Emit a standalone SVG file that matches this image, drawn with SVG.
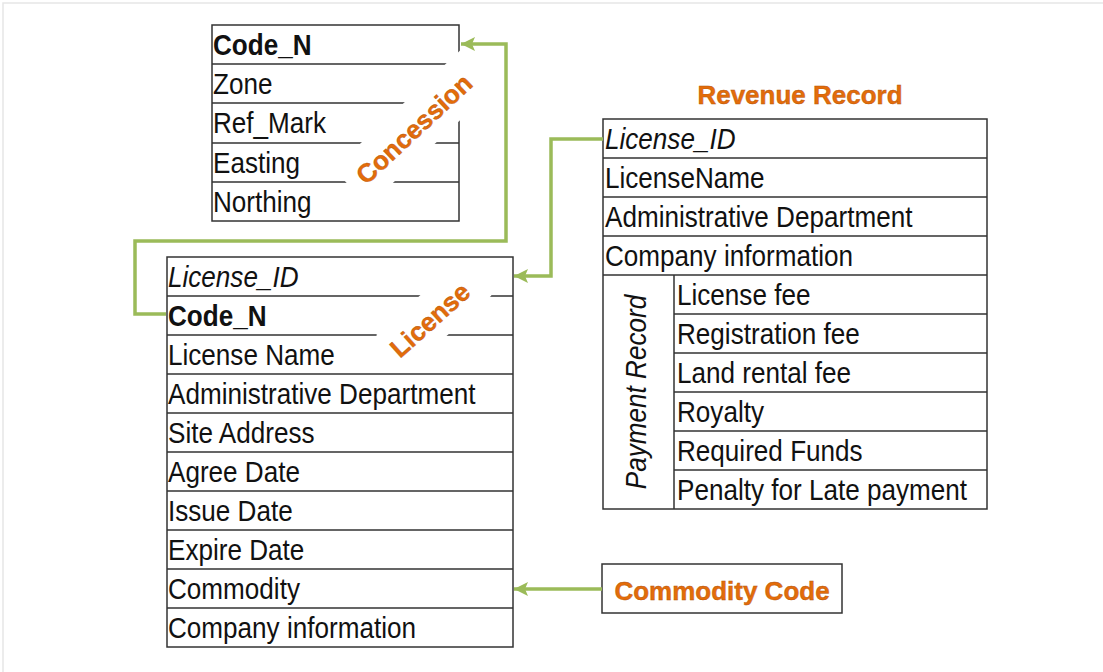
<svg xmlns="http://www.w3.org/2000/svg" width="1103" height="672" viewBox="0 0 1103 672">
  <style>
    .grid { stroke: #333333; stroke-width: 1.5; fill: none; }
    .cell { font-family: "Liberation Sans", Arial, sans-serif; font-size: 29px; fill: #111111; }
    .b { font-weight: bold; }
    .i { font-style: italic; }
    .tag { font-family: "Liberation Sans", Arial, sans-serif; font-weight: bold; font-size: 26px; fill: #E36C0A; stroke: #B3540C; stroke-width: 0.4; }
    .link { stroke: #9BBB59; stroke-width: 3.5; fill: none; stroke-linejoin: miter; }
  </style>
  <defs>
    <marker id="arrow" markerUnits="userSpaceOnUse" markerWidth="16" markerHeight="16" refX="14" refY="7" orient="auto">
      <path d="M0,0 L14,7 L0,14 L3,7 z" fill="#9BBB59"/>
    </marker>
  </defs>

  <rect x="0" y="0" width="1103" height="672" fill="#ffffff"/>
  <path d="M3,672 V3 H1103" stroke="#e6e6e6" stroke-width="1.5" fill="none"/>

  <!-- Concession table -->
  <g id="concession">
    <rect class="grid" x="212" y="25" width="247" height="196" fill="#ffffff"/>
    <path class="grid" d="M212,64 H459 M212,103 H459 M212,143 H459 M212,182 H459"/>
    <text class="cell b" transform="translate(213,55) scale(0.9,1)">Code_N</text>
    <text class="cell" transform="translate(213,94) scale(0.9,1)">Zone</text>
    <text class="cell" transform="translate(213,133) scale(0.9,1)">Ref_Mark</text>
    <text class="cell" transform="translate(213,173) scale(0.9,1)">Easting</text>
    <text class="cell" transform="translate(213,212) scale(0.9,1)">Northing</text>
    <g transform="translate(414,129) rotate(-43)">
      <rect x="-86" y="-26" width="174" height="51" fill="#ffffff"/>
      <text class="tag" x="0" y="9" text-anchor="middle">Concession</text>
    </g>
  </g>

  <!-- License table -->
  <g id="license">
    <rect class="grid" x="167" y="257" width="346" height="390" fill="#ffffff"/>
    <path class="grid" d="M167,296 H513 M167,335 H513 M167,374 H513 M167,413 H513 M167,452 H513 M167,491 H513 M167,530 H513 M167,569 H513 M167,608 H513"/>
    <text class="cell i" transform="translate(168,287) scale(0.9,1)">License_ID</text>
    <text class="cell b" transform="translate(168,326) scale(0.9,1)">Code_N</text>
    <text class="cell" transform="translate(168,365) scale(0.9,1)">License Name</text>
    <text class="cell" transform="translate(168,404) scale(0.9,1)">Administrative Department</text>
    <text class="cell" transform="translate(168,443) scale(0.9,1)">Site Address</text>
    <text class="cell" transform="translate(168,482) scale(0.9,1)">Agree Date</text>
    <text class="cell" transform="translate(168,521) scale(0.9,1)">Issue Date</text>
    <text class="cell" transform="translate(168,560) scale(0.9,1)">Expire Date</text>
    <text class="cell" transform="translate(168,599) scale(0.9,1)">Commodity</text>
    <text class="cell" transform="translate(168,638) scale(0.9,1)">Company information</text>
    <g transform="translate(430,320) rotate(-42)">
      <rect x="-50" y="-25" width="112" height="48" fill="#ffffff"/>
      <text class="tag" x="0" y="9" text-anchor="middle">License</text>
    </g>
  </g>

  <!-- Revenue Record table -->
  <g id="revenue-record">
    <text class="tag" x="800" y="104" text-anchor="middle">Revenue Record</text>
    <rect class="grid" x="603" y="119" width="384" height="390" fill="#ffffff"/>
    <path class="grid" d="M603,158 H987 M603,197 H987 M603,236 H987 M603,275 H987 M674,314 H987 M674,353 H987 M674,392 H987 M674,431 H987 M674,470 H987 M674,275 V509"/>
    <text class="cell i" transform="translate(605,149) scale(0.9,1)">License_ID</text>
    <text class="cell" transform="translate(605,188) scale(0.9,1)">LicenseName</text>
    <text class="cell" transform="translate(605,227) scale(0.9,1)">Administrative Department</text>
    <text class="cell" transform="translate(605,266) scale(0.9,1)">Company information</text>
    <text class="cell i" text-anchor="middle" transform="translate(646,392) rotate(-90) scale(0.9,1)">Payment Record</text>
    <text class="cell" transform="translate(677,305) scale(0.9,1)">License fee</text>
    <text class="cell" transform="translate(677,344) scale(0.9,1)">Registration fee</text>
    <text class="cell" transform="translate(677,383) scale(0.9,1)">Land rental fee</text>
    <text class="cell" transform="translate(677,422) scale(0.9,1)">Royalty</text>
    <text class="cell" transform="translate(677,461) scale(0.9,1)">Required Funds</text>
    <text class="cell" transform="translate(677,500) scale(0.9,1)">Penalty for Late payment</text>
  </g>

  <!-- Commodity Code box -->
  <g id="commodity-code">
    <rect class="grid" x="602" y="564" width="240" height="49" fill="#ffffff"/>
    <text class="tag" x="722" y="600" text-anchor="middle">Commodity Code</text>
  </g>

  <!-- Connectors -->
  <g id="connectors">
    <path class="link" d="M166,314 H135 V241 H506 V44 H461" marker-end="url(#arrow)"/>
    <path class="link" d="M603,139 H551 V276 H514" marker-end="url(#arrow)"/>
    <path class="link" d="M602,589 H514" marker-end="url(#arrow)"/>
  </g>
</svg>
